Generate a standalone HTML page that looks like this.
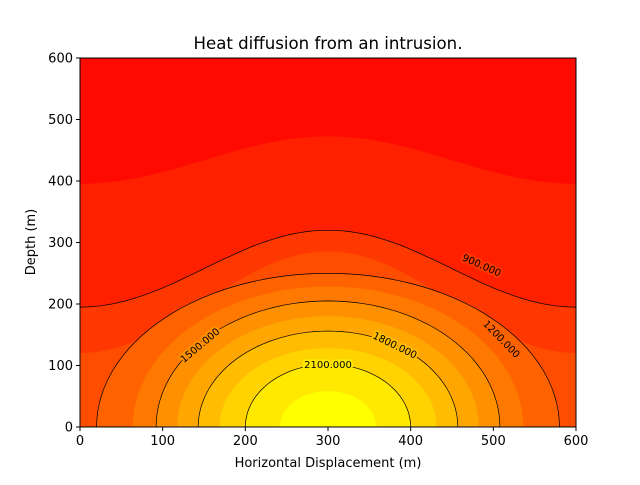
<!DOCTYPE html>
<html><head><meta charset="utf-8"><style>
body{margin:0;background:#fff;}
svg text{font-family:"DejaVu Sans","Liberation Sans",sans-serif;}
</style></head><body>
<svg id="chart" width="640" height="480" viewBox="0 0 640 480">
<rect x="0" y="0" width="640" height="480" fill="#fff"/>
<defs><clipPath id="plotclip"><rect x="80" y="58" width="496" height="369"/></clipPath></defs>
<g id="fills" clip-path="url(#plotclip)"></g>
<g id="lines" clip-path="url(#plotclip)"></g>
<g id="labels"></g>
<rect x="80" y="58" width="496" height="369" fill="none" stroke="#000" stroke-width="1"/>
<g id="axes"></g>
<text x="328" y="49" text-anchor="middle" font-size="16.6">Heat diffusion from an intrusion.</text>
<text x="328" y="467" text-anchor="middle" font-size="13">Horizontal Displacement (m)</text>
<text x="35" y="242" text-anchor="middle" font-size="13" transform="rotate(-90 35 242)">Depth (m)</text>
</svg>
<script>
// Filled band boundaries (levels)
const fillLevels = [750, 900, 1050, 1200, 1350, 1500, 1650, 1800, 1950, 2100, 2250];
// For boundaries reaching the side walls: depth at wall and at centre
const sideEdgeDepth = [395, 195, 120];
const sideCenterDepth = [472, 320, 285];
// For boundaries closing on the bottom: half-width at surface y=0 and height at centre
const domeHalfWidth = [280, 236, 208, 182, 157, 131, 100, 58];
const domeHeight = [250, 228, 205, 180, 156, 128, 102, 58];
const lineLevels = [900, 1200, 1500, 1800, 2100];
const xTicks = [0, 100, 200, 300, 400, 500, 600];
const yTicks = [0, 100, 200, 300, 400, 500, 600];
const labelLevels = ["900.000", "1200.000", "1500.000", "1800.000", "2100.000"];
const labelPosX = [486, 510, 145, 381, 300];
const labelPosY = [263, 143, 133, 133, 102];
const labelAngle = [24, 46, -40, 26, 0];

const X0 = 80, X1 = 576, Y0 = 427, Y1 = 58;
const sx = v => X0 + (v / 600) * (X1 - X0);
const sy = v => Y0 - (v / 600) * (Y0 - Y1);
const NS = "http://www.w3.org/2000/svg";
function mk(tag, attrs, parent) {
  const e = document.createElementNS(NS, tag);
  for (const k in attrs) e.setAttribute(k, attrs[k]);
  parent.appendChild(e);
  return e;
}
const nBands = fillLevels.length + 1;
function bandColor(i) {
  const g = Math.round(10 + (255 - 10) * i / (nBands - 1));
  return "rgb(255," + g + ",0)";
}
function curvePath(idx, closed) {
  let pts = [];
  if (idx < sideEdgeDepth.length) {
    const e = sideEdgeDepth[idx], c = sideCenterDepth[idx];
    for (let x = 0; x <= 600; x += 5) {
      const y = e + (c - e) * (0.5 + 0.5 * Math.cos(Math.PI * (x - 300) / 300));
      pts.push([sx(x), sy(y)]);
    }
  } else {
    const j = idx - sideEdgeDepth.length;
    const w = domeHalfWidth[j], h = domeHeight[j];
    for (let a = 0; a <= 180; a += 3) {
      const t = Math.PI * a / 180;
      pts.push([sx(300 - w * Math.cos(t)), sy(h * Math.sin(t))]);
    }
  }
  let d = "M" + pts.map(p => p[0].toFixed(1) + "," + p[1].toFixed(1)).join(" L");
  if (closed) {
    const last = pts[pts.length - 1], first = pts[0];
    d += " L" + last[0].toFixed(1) + "," + (Y0 + 2) + " L" + first[0].toFixed(1) + "," + (Y0 + 2) + " Z";
  }
  return d;
}
const fills = document.getElementById("fills");
const bg = mk("rect", {x: X0, y: Y1, width: X1 - X0, height: Y0 - Y1, fill: bandColor(0)}, fills);


fillLevels.forEach((lv, i) => {
  const p = mk("path", {d: curvePath(i, true), fill: bandColor(i + 1), stroke: bandColor(i + 1), "stroke-width": 0.5}, fills);
  
  
});
const lines = document.getElementById("lines");
lineLevels.forEach(lv => {
  const i = fillLevels.indexOf(lv);
  const p = mk("path", {d: curvePath(i, false), fill: "none", stroke: "#000", "stroke-width": 0.7}, lines);
  
  
});
const labels = document.getElementById("labels");
labelLevels.forEach((t, i) => {
  const x = sx(labelPosX[i]), y = sy(labelPosY[i]);
  const lvIdx = fillLevels.indexOf(lineLevels[i]);
  const el = mk("text", {x: x, y: y + 3.5, "text-anchor": "middle", "font-size": 10, fill: "#000",
    stroke: bandColor(lvIdx + 1), "stroke-width": 4, "paint-order": "stroke",
    transform: "rotate(" + labelAngle[i] + " " + x + " " + y + ")"}, labels);
  el.textContent = t;
  
  
});
const axes = document.getElementById("axes");
xTicks.forEach(v => {
  const l = mk("line", {x1: sx(v), x2: sx(v), y1: Y0, y2: Y0 + 4, stroke: "#000"}, axes);
  
  
  const t = mk("text", {x: sx(v), y: Y0 + 18, "text-anchor": "middle", "font-size": 13}, axes);
  t.textContent = v;
  
  
});
yTicks.forEach(v => {
  const l = mk("line", {x1: X0 - 4, x2: X0, y1: sy(v), y2: sy(v), stroke: "#000"}, axes);
  
  
  const t = mk("text", {x: X0 - 7, y: sy(v) + 4.5, "text-anchor": "end", "font-size": 13}, axes);
  t.textContent = v;
  
  
});
</script>
</body></html>
